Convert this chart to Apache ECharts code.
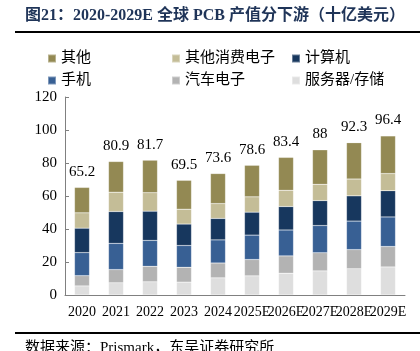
<!DOCTYPE html>
<html>
<head>
<meta charset="utf-8">
<script src="https://cdn.jsdelivr.net/npm/echarts@6/dist/echarts.min.js"></script>
<style>
  html, body { margin: 0; padding: 0; background: #fff; }
  #chart { width: 420px; height: 351px; }
</style>
</head>
<body>
<div id="chart"></div>
<script>
var years = ['2020', '2021', '2022', '2023', '2024', '2025E', '2026E', '2027E', '2028E', '2029E'];
var totals = [65.2, 80.9, 81.7, 69.5, 73.6, 78.6, 83.4, 88, 92.3, 96.4];

// 自下而上
var server = [5.5, 7.4, 8.0, 7.8, 10.4, 11.6, 13.2, 14.6, 15.9, 17.0];
var auto = [6.2, 8.0, 9.4, 9.0, 9.0, 9.9, 10.5, 11.0, 11.6, 12.4];
var phone = [14.0, 15.9, 15.7, 13.2, 14.0, 14.8, 15.7, 16.5, 17.3, 17.9];
var computer = [14.8, 19.3, 17.7, 13.0, 13.0, 13.9, 14.2, 15.1, 15.3, 15.9];
var consumer = [9.3, 11.7, 11.2, 9.0, 9.0, 9.3, 9.9, 9.9, 10.2, 10.4];
var other = [15.4, 18.6, 19.7, 17.5, 18.2, 19.1, 19.9, 20.9, 22.0, 22.8];

var yTicks = [0, 20, 40, 60, 80, 100, 120];

var serif = '"Liberation Serif", "Noto Sans CJK SC", serif';

var chart = echarts.init(document.getElementById('chart'));

function legendAt(name, left, top) {
  return {
    data: [name],
    left: left,
    top: top,
    itemWidth: 8,
    itemHeight: 8,
    itemGap: 4,
    icon: 'rect',
    textStyle: { fontFamily: serif, fontSize: 15, color: '#000' }
  };
}

function seriesOf(name, data, color) {
  return {
    name: name,
    type: 'bar',
    stack: 'total',
    barWidth: 15,
    data: data,
    itemStyle: { color: color, borderColor: 'rgba(255,255,255,0.35)', borderWidth: 0.5 }
  };
}

var topSeries = seriesOf('其他', other, '#938953');
topSeries.label = {
  show: true,
  position: 'top',
  distance: 8,
  fontFamily: serif,
  fontSize: 15,
  color: '#000',
  formatter: function (p) { return totals[p.dataIndex]; }
};

var option = {
  animation: false,
  graphic: [
    {
      type: 'text',
      left: 25,
      top: 8,
      style: {
        text: '图21：2020-2029E 全球 PCB 产值分下游（十亿美元）',
        font: 'bold 16px ' + serif,
        fill: '#1f3458'
      }
    },
    { type: 'rect', shape: { x: 15, y: 31, width: 405, height: 2 }, style: { fill: '#000' } },
    { type: 'rect', shape: { x: 15, y: 332, width: 405, height: 2 }, style: { fill: '#000' } },
    {
      type: 'text',
      left: 25,
      top: 341,
      style: {
        text: '数据来源：Prismark，东吴证券研究所',
        font: '15px ' + serif,
        fill: '#000'
      }
    }
  ],
  legend: [
    legendAt('其他', 42, 46),
    legendAt('其他消费电子', 166, 46),
    legendAt('计算机', 286, 46),
    legendAt('手机', 42, 68),
    legendAt('汽车电子', 166, 68),
    legendAt('服务器/存储', 286, 68)
  ],
  grid: { left: 65, right: 15, top: 97, bottom: 56 },
  xAxis: {
    type: 'category',
    data: years,
    axisLine: { lineStyle: { color: '#808080' } },
    axisTick: { inside: true, length: 4, lineStyle: { color: '#808080' } },
    axisLabel: {
      interval: 0,
      margin: 10,
      fontFamily: serif,
      fontSize: 14,
      color: '#000'
    }
  },
  yAxis: {
    type: 'value',
    min: 0,
    max: 120,
    interval: 20,
    splitLine: { show: false },
    axisLine: { show: true, lineStyle: { color: '#808080' } },
    axisTick: { show: true, inside: true, length: 4, lineStyle: { color: '#808080' } },
    axisLabel: {
      margin: 8,
      fontFamily: serif,
      fontSize: 15,
      color: '#000',
      formatter: function (v) { return yTicks.indexOf(v) >= 0 ? v : ''; }
    }
  },
  series: [
    seriesOf('服务器/存储', server, '#dedede'),
    seriesOf('汽车电子', auto, '#b3b3b3'),
    seriesOf('手机', phone, '#386094'),
    seriesOf('计算机', computer, '#17375e'),
    seriesOf('其他消费电子', consumer, '#c4bd97'),
    topSeries
  ]
};

chart.setOption(option);
</script>
</body>
</html>
